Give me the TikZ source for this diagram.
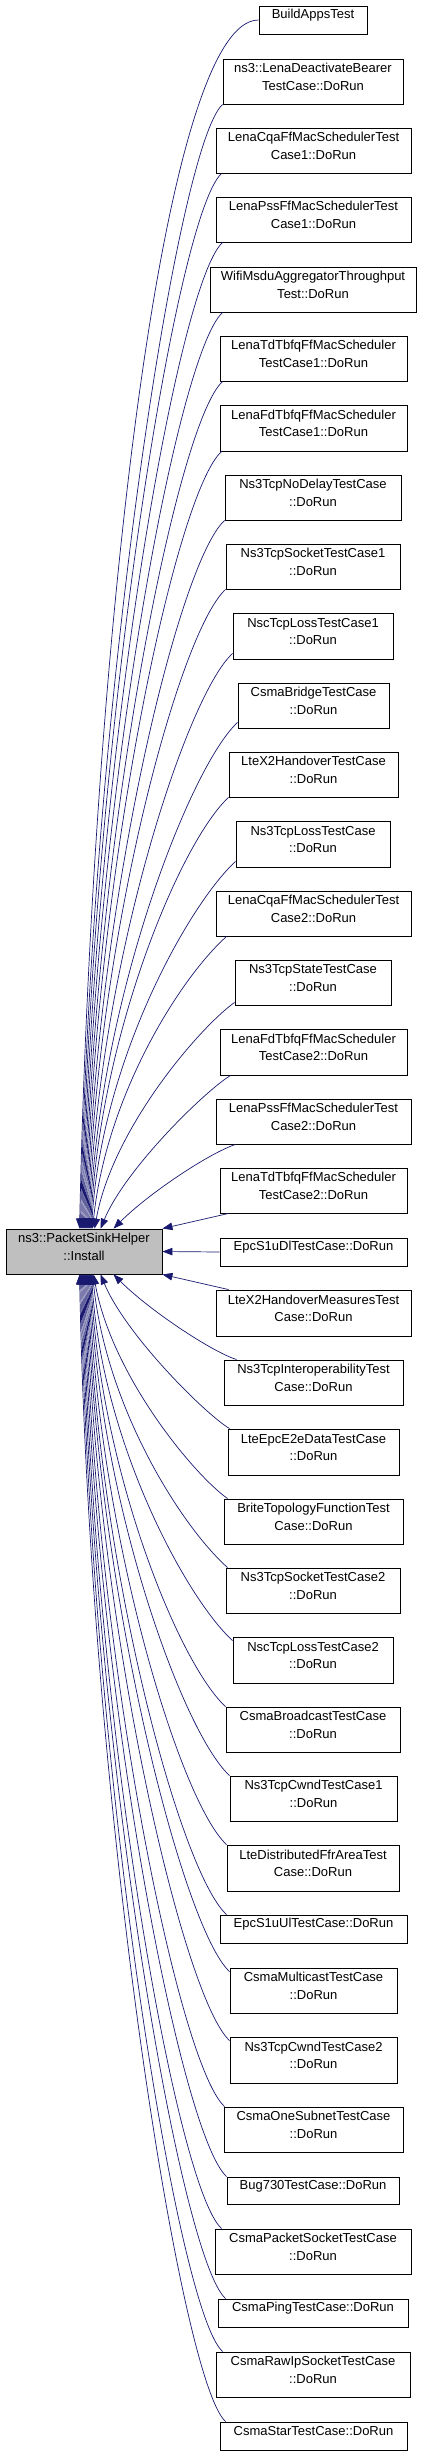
\documentclass[tikz,border=0pt]{standalone}
\usepackage{fontspec}
\setmainfont{Liberation Sans}
\usetikzlibrary{fit,calc,arrows.meta}
\definecolor{edgecol}{HTML}{191970}
\definecolor{mainfill}{HTML}{BFBFBF}
\begin{document}
\begin{tikzpicture}[x=1pt,y=-1pt,
  box/.style={draw=black,line width=0.9pt,fill=white,inner sep=0pt,align=center,
    font=\fontsize{13pt}{17.3pt}\selectfont},
  edge/.style={draw=edgecol,line width=0.7pt,-{Triangle[length=10pt,width=7.5pt]}}]
\useasboundingbox (0,0) rectangle (421,2456);
\node[box,fill=mainfill,fit={(6,1229) (162,1274)}] (main) {ns3::PacketSinkHelper\\::Install};
\node[box,fit={(259,6) (367,34)}] (n1) {BuildAppsTest};
\node[box,fit={(223,59) (403,104)}] (n2) {ns3::LenaDeactivateBearer\\TestCase::DoRun};
\node[box,fit={(216,128) (411,173)}] (n3) {LenaCqaFfMacSchedulerTest\\Case1::DoRun};
\node[box,fit={(216,197) (411,242)}] (n4) {LenaPssFfMacSchedulerTest\\Case1::DoRun};
\node[box,fit={(210,267) (416,312)}] (n5) {WifiMsduAggregatorThroughput\\Test::DoRun};
\node[box,fit={(220,336) (407,381)}] (n6) {LenaTdTbfqFfMacScheduler\\TestCase1::DoRun};
\node[box,fit={(220,405) (407,451)}] (n7) {LenaFdTbfqFfMacScheduler\\TestCase1::DoRun};
\node[box,fit={(225,475) (401,520)}] (n8) {Ns3TcpNoDelayTestCase\\::DoRun};
\node[box,fit={(226,544) (400,589)}] (n9) {Ns3TcpSocketTestCase1\\::DoRun};
\node[box,fit={(233,613) (393,659)}] (n10) {NscTcpLossTestCase1\\::DoRun};
\node[box,fit={(238,683) (389,728)}] (n11) {CsmaBridgeTestCase\\::DoRun};
\node[box,fit={(229,752) (398,797)}] (n12) {LteX2HandoverTestCase\\::DoRun};
\node[box,fit={(236,821) (390,867)}] (n13) {Ns3TcpLossTestCase\\::DoRun};
\node[box,fit={(216,891) (411,936)}] (n14) {LenaCqaFfMacSchedulerTest\\Case2::DoRun};
\node[box,fit={(235,960) (391,1005)}] (n15) {Ns3TcpStateTestCase\\::DoRun};
\node[box,fit={(220,1029) (407,1075)}] (n16) {LenaFdTbfqFfMacScheduler\\TestCase2::DoRun};
\node[box,fit={(216,1099) (411,1144)}] (n17) {LenaPssFfMacSchedulerTest\\Case2::DoRun};
\node[box,fit={(220,1168) (407,1213)}] (n18) {LenaTdTbfqFfMacScheduler\\TestCase2::DoRun};
\node[box,fit={(220,1238) (407,1266)}] (n19) {EpcS1uDlTestCase::DoRun};
\node[box,fit={(216,1290) (411,1336)}] (n20) {LteX2HandoverMeasuresTest\\Case::DoRun};
\node[box,fit={(224,1360) (403,1405)}] (n21) {Ns3TcpInteroperabilityTest\\Case::DoRun};
\node[box,fit={(228,1429) (399,1475)}] (n22) {LteEpcE2eDataTestCase\\::DoRun};
\node[box,fit={(224,1499) (403,1544)}] (n23) {BriteTopologyFunctionTest\\Case::DoRun};
\node[box,fit={(226,1568) (400,1613)}] (n24) {Ns3TcpSocketTestCase2\\::DoRun};
\node[box,fit={(233,1637) (393,1683)}] (n25) {NscTcpLossTestCase2\\::DoRun};
\node[box,fit={(226,1707) (400,1752)}] (n26) {CsmaBroadcastTestCase\\::DoRun};
\node[box,fit={(230,1776) (397,1821)}] (n27) {Ns3TcpCwndTestCase1\\::DoRun};
\node[box,fit={(227,1845) (399,1891)}] (n28) {LteDistributedFfrAreaTest\\Case::DoRun};
\node[box,fit={(220,1915) (407,1943)}] (n29) {EpcS1uUlTestCase::DoRun};
\node[box,fit={(230,1968) (397,2013)}] (n30) {CsmaMulticastTestCase\\::DoRun};
\node[box,fit={(230,2037) (397,2083)}] (n31) {Ns3TcpCwndTestCase2\\::DoRun};
\node[box,fit={(224,2107) (403,2152)}] (n32) {CsmaOneSubnetTestCase\\::DoRun};
\node[box,fit={(227,2177) (399,2204)}] (n33) {Bug730TestCase::DoRun};
\node[box,fit={(215,2229) (411,2274)}] (n34) {CsmaPacketSocketTestCase\\::DoRun};
\node[box,fit={(218,2299) (408,2327)}] (n35) {CsmaPingTestCase::DoRun};
\node[box,fit={(216,2352) (410,2397)}] (n36) {CsmaRawIpSocketTestCase\\::DoRun};
\node[box,fit={(220,2422) (407,2450)}] (n37) {CsmaStarTestCase::DoRun};
% edges into the top of the main node
\foreach \i/\sa/\sx/\sy/\ex/\ax/\ay/\bx/\by in {
  1/west/0/0/74/-99/0/12/-556,
  2/south west/0/0/75/-46/42/10/-518,
  3/south west/6/0/76/-46/42/10/-486,
  4/south west/7/0/77/-46/42/10/-454,
  5/south west/13/0/78/-46/42/10/-422,
  6/south west/3/0/79/-46/42/10/-390,
  7/south west/2/0/80/-46/42/10/-358,
  8/south west/0/0/81/-46/42/10/-326,
  9/south west/0/0/82/-46/42/10/-295,
  10/south west/0/-6/83/-46/42/10/-265,
  11/south west/0/-6/84/-46/42/10/-233,
  12/south west/0/0/85/-46/42/10/-199,
  13/south west/0/-6/86/-46/42/10/-169,
  14/south west/11/0/87/-45/40/14/-135,
  15/south west/0/-3/89/-35/25/18/-100,
  16/south west/11/0/95/-25/15/25/-60,
  17/south west/20/0/108/-25/8/36/-36}{
  \coordinate (S) at ($(n\i.\sa)+(\sx,\sy)$);
  \coordinate (E) at ($(main.north west)+(\ex,0)$);
  \draw[edge] (S) .. controls ($(S)+(\ax,\ay)$) and ($(E)+(\bx,\by)$) .. (E);
}
\draw[edge] ($(n18.south west)+(9,0)$) -- (main.north east);
\draw[edge] (n19.west) -- (main.east);
\draw[edge] ($(n20.north west)+(13,0)$) -- (main.south east);
% edges into the bottom of the main node
\foreach \i/\sx/\sy/\ex/\ax/\ay/\bx/\by in {
  21/13/0/108/-25/-8/36/36,
  22/2/0/95/-25/-15/25/60,
  23/4/0/88/-35/-25/18/100,
  24/2/0/87/-45/-40/14/135,
  25/0/4/86/-46/-42/10/168,
  26/0/0/85/-46/-42/10/198,
  27/0/0/84/-46/-42/10/230,
  28/0/0/83/-46/-42/10/262,
  29/7/0/82/-46/-42/10/294,
  30/0/4/81/-46/-42/10/320,
  31/0/4/80/-46/-42/10/352,
  32/1/0/79/-46/-42/10/382,
  33/0/0/78/-46/-42/10/414,
  34/7/0/77/-46/-42/10/439,
  35/8/0/76/-46/-42/10/471,
  36/7/0/75/-46/-42/10/495,
  37/6/0/74/-46/-42/10/527}{
  \coordinate (S) at ($(n\i.north west)+(\sx,\sy)$);
  \coordinate (E) at ($(main.south west)+(\ex,0)$);
  \draw[edge] (S) .. controls ($(S)+(\ax,\ay)$) and ($(E)+(\bx,\by)$) .. (E);
}
\end{tikzpicture}
\end{document}
